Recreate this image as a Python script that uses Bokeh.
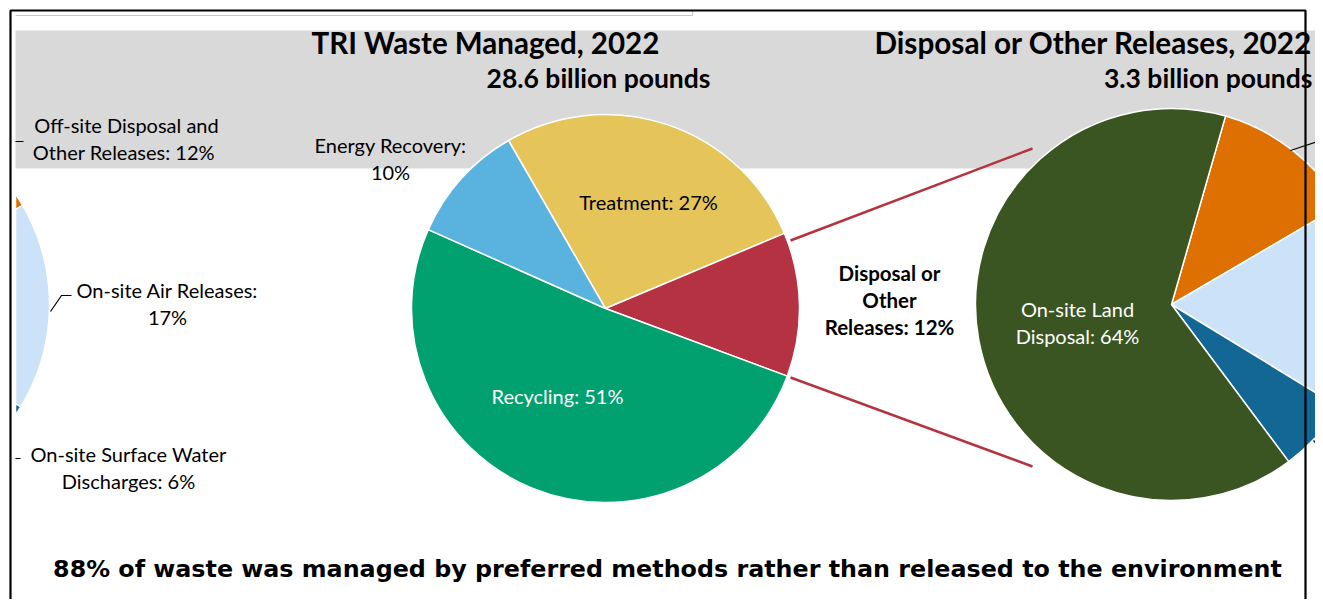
import math
from bokeh.plotting import figure
from bokeh.models import Range1d, ColumnDataSource
from bokeh.embed import file_html
from bokeh.resources import INLINE
from bokeh.core.properties import value

# ---------------- data ----------------
managed_categories = ["Treatment", "Disposal or Other Releases", "Recycling", "Energy Recovery"]
managed_pct = [27, 12, 51, 10]
managed_colors = ["#E5C55A", "#B53242", "#00A06F", "#5AB3DE"]
managed_title = "TRI Waste Managed, 2022"
managed_total = "28.6 billion pounds"

release_categories = ["Off-site Disposal and Other Releases", "On-site Air Releases",
                      "On-site Surface Water Discharges", "On-site Land Disposal"]
release_pct = [12, 17, 6, 64]
release_colors = ["#DD7000", "#CCE2F8", "#136795", "#3A5521"]
release_title = "Disposal or Other Releases, 2022"
release_total = "3.3 billion pounds"

footer = "88% of waste was managed by preferred methods rather than released to the environment"

# ---------------- layout helpers ----------------
FW, FH = 1315, 599


def Y(ys):
    return FH - ys


p = figure(width=FW, height=FH, x_range=Range1d(0, FW), y_range=Range1d(0, FH),
           output_backend="svg", toolbar_location=None, min_border=0)
p.axis.visible = False
p.grid.visible = False
p.outline_line_color = None
p.background_fill_color = "white"
p.border_fill_color = "white"

CAL = value("Lato")

# gray title band
p.quad(left=15, right=FW + 10, top=Y(30), bottom=Y(168), fill_color="#D9D9D9", line_color=None)
# thin grey frame at top
p.line(x=[15, 692, 692], y=[Y(15), Y(15), Y(10)], line_color="#C8C8C8", line_width=1.2)


def angles(vals, start_deg):
    tot = float(sum(vals))
    a = start_deg
    out = []
    for v in vals:
        b = a + v / tot * 360.0
        out.append((a, b))
        a = b
    return out


def pie(cx, cy, r, vals, colors, start_deg):
    ang = angles(vals, start_deg)
    starts = [math.radians(90 - b) for a, b in ang]
    ends = [math.radians(90 - a) for a, b in ang]
    src = ColumnDataSource(dict(x=[cx] * len(vals), y=[cy] * len(vals), s=starts, e=ends, c=colors))
    p.wedge(x="x", y="y", radius=r, radius_units="screen", start_angle="s", end_angle="e",
            direction="anticlock", fill_color="c", line_color="white", line_width=1.5, source=src)


def clipped_pie(cx, cy, r, vals, colors, start_deg, xmin):
    """Pie slices as polygons, clipped to x >= xmin (wrapped part at the left edge)."""
    xs_all, ys_all, cols = [], [], []
    for (a, b), c in zip(angles(vals, start_deg), colors):
        n = max(4, int((b - a) * 2))
        pts = [(cx, cy)]
        for k in range(n + 1):
            t = math.radians(a + (b - a) * k / n)
            pts.append((cx + r * math.sin(t), cy + r * math.cos(t)))
        # clip against x >= xmin
        out = []
        for i in range(len(pts)):
            p1 = pts[i]
            p2 = pts[(i + 1) % len(pts)]
            in1, in2 = p1[0] >= xmin, p2[0] >= xmin
            if in1:
                out.append(p1)
            if in1 != in2:
                f = (xmin - p1[0]) / (p2[0] - p1[0])
                out.append((xmin, p1[1] + f * (p2[1] - p1[1])))
        if len(out) >= 3:
            xs_all.append([q[0] for q in out])
            ys_all.append([q[1] for q in out])
            cols.append(c)
    if xs_all:
        p.patches(xs=xs_all, ys=ys_all, fill_color=cols, line_color="white", line_width=1.5)


# left pie (waste managed)
pie(605, Y(308), 194, managed_pct, managed_colors, 330)
# right pie (disposal) and its wrapped copy at the left edge
pie(1171, Y(304), 196, release_pct, release_colors, 16)
clipped_pie(1171 - 1318, Y(304), 196, release_pct, release_colors, 16, 15)

# connector lines
red = "#B5333F"
p.line(x=[790, 1032], y=[Y(240), Y(148)], line_color=red, line_width=2.5)
p.line(x=[790, 1032], y=[Y(377), Y(466)], line_color=red, line_width=2.5)

# leader lines (right pie)
p.line(x=[1290, 1323], y=[Y(150), Y(139)], line_color="black", line_width=1.2)
p.line(x=[1313, 1323], y=[Y(440), Y(452)], line_color="black", line_width=1.2)
p.line(x=[15, 23], y=[Y(141), Y(141)], line_color="black", line_width=1.2)
p.line(x=[15, 20], y=[Y(458), Y(458)], line_color="black", line_width=1.2)
p.line(x=[50, 61, 71], y=[Y(311), Y(295), Y(295)], line_color="black", line_width=1.2)


def txt(x, ys, s, size, color="black", bold=False, align="center", font=CAL):
    p.text(x=[x], y=[Y(ys)], text=[s], text_font=font, text_font_size=f"{size}px",
           text_font_style="bold" if bold else "normal", text_color=color,
           text_align=align, text_baseline="middle")


# titles
txt(485, 42, managed_title, 29.5, bold=True)
txt(598, 77, managed_total, 26.5, bold=True)
txt(1312, 42, release_title, 29.7, bold=True, align="right")
txt(1312, 77, release_total, 26.5, bold=True, align="right")

# labels left pie
LS = 20
txt(390, 144, "Energy Recovery:", LS)
txt(390, 171, f"{managed_pct[3]}%", LS)
txt(648, 201, f"{managed_categories[0]}: {managed_pct[0]}%", LS)
txt(557, 395, f"{managed_categories[2]}: {managed_pct[2]}%", LS, color="white")
txt(889, 272, "Disposal or", 20.5, bold=True)
txt(889, 299, "Other", 20.5, bold=True)
txt(889, 326, f"Releases: {managed_pct[1]}%", 20.5, bold=True)

# labels right pie
txt(1077, 308, "On-site Land", LS, color="white")
txt(1077, 335, f"Disposal: {release_pct[3]}%", LS, color="white")
txt(126, 124, "Off-site Disposal and", LS)
txt(126, 151, f"Other Releases:  {release_pct[0]}%", LS)
txt(167, 289, "On-site Air Releases:", LS)
txt(167, 316, f"{release_pct[1]}%", LS)
txt(128, 453, "On-site Surface Water", LS)
txt(128, 480, f"Discharges: {release_pct[2]}%", LS)

# footer
txt(667, 568, footer, 23.8, bold=True, font=value("DejaVu Sans"))

# black border
p.line(x=[10, 10, 1305, 1305], y=[-5, Y(10), Y(10), -5], line_color="black", line_width=2.2)

open("out.html", "w").write(file_html(p, INLINE))
